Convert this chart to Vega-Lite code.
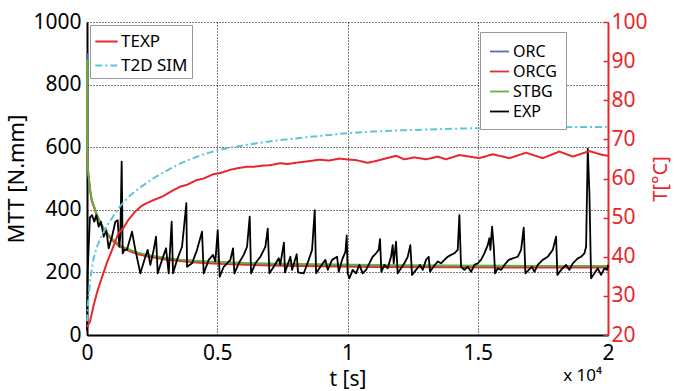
{
  "$schema": "https://vega.github.io/schema/vega-lite/v6.json",
  "width": 521,
  "height": 313,
  "autosize": {"type": "none"},
  "padding": {"left": 87, "top": 22, "right": 68, "bottom": 56},
  "background": "white",
  "config": {
    "font": "Noto Sans",
    "view": {"stroke": null},
    "axis": {"titleFontWeight": "normal", "labelFont": "Noto Sans", "titleFont": "Noto Sans"}
  },
  "title": {"text": "x 10⁴", "orient": "bottom", "anchor": "end", "frame": "group", "offset": -21, "baseline": "top", "fontSize": 17, "fontWeight": "normal", "dx": -6, "color": "black"},
  "datasets": {
    "M": [
      {"s":"ORC","t":0,"v":900},{"s":"ORC","t":5,"v":610},{"s":"ORC","t":14,"v":578},{"s":"ORC","t":51,"v":518},{"s":"ORC","t":120,"v":465},{"s":"ORC","t":180,"v":433},{"s":"ORC","t":371,"v":387},{"s":"ORC","t":550,"v":353},{"s":"ORC","t":756,"v":326},{"s":"ORC","t":1000,"v":304},{"s":"ORC","t":1280,"v":285},{"s":"ORC","t":1650,"v":271},{"s":"ORC","t":2000,"v":261},{"s":"ORC","t":2290,"v":255},{"s":"ORC","t":3000,"v":245},{"s":"ORC","t":3570,"v":240},{"s":"ORC","t":4200,"v":236},{"s":"ORC","t":4840,"v":233},{"s":"ORC","t":6130,"v":229},{"s":"ORC","t":7410,"v":226},{"s":"ORC","t":9000,"v":223},{"s":"ORC","t":11000,"v":221},{"s":"ORC","t":14000,"v":220},{"s":"ORC","t":17000,"v":219},{"s":"ORC","t":20000,"v":219},
      {"s":"ORCG","t":0,"v":860},{"s":"ORCG","t":5,"v":600},{"s":"ORCG","t":14,"v":570},{"s":"ORCG","t":51,"v":512},{"s":"ORCG","t":120,"v":460},{"s":"ORCG","t":180,"v":428},{"s":"ORCG","t":371,"v":383},{"s":"ORCG","t":550,"v":349},{"s":"ORCG","t":756,"v":322},{"s":"ORCG","t":1000,"v":300},{"s":"ORCG","t":1280,"v":281},{"s":"ORCG","t":1650,"v":267},{"s":"ORCG","t":2000,"v":257},{"s":"ORCG","t":2290,"v":251},{"s":"ORCG","t":3000,"v":241},{"s":"ORCG","t":3570,"v":236},{"s":"ORCG","t":4200,"v":231},{"s":"ORCG","t":4840,"v":228},{"s":"ORCG","t":6130,"v":224},{"s":"ORCG","t":7410,"v":221},{"s":"ORCG","t":9000,"v":219},{"s":"ORCG","t":11000,"v":217},{"s":"ORCG","t":14000,"v":216},{"s":"ORCG","t":17000,"v":215},{"s":"ORCG","t":20000,"v":215},
      {"s":"STBG","t":0,"v":880},{"s":"STBG","t":5,"v":605},{"s":"STBG","t":14,"v":575},{"s":"STBG","t":51,"v":516},{"s":"STBG","t":120,"v":464},{"s":"STBG","t":180,"v":432},{"s":"STBG","t":371,"v":387},{"s":"STBG","t":550,"v":353},{"s":"STBG","t":756,"v":327},{"s":"STBG","t":1000,"v":305},{"s":"STBG","t":1280,"v":286},{"s":"STBG","t":1650,"v":272},{"s":"STBG","t":2000,"v":262},{"s":"STBG","t":2290,"v":256},{"s":"STBG","t":3000,"v":247},{"s":"STBG","t":3570,"v":241},{"s":"STBG","t":4200,"v":237},{"s":"STBG","t":4840,"v":234},{"s":"STBG","t":6130,"v":230},{"s":"STBG","t":7410,"v":228},{"s":"STBG","t":9000,"v":226},{"s":"STBG","t":11000,"v":224},{"s":"STBG","t":14000,"v":222},{"s":"STBG","t":17000,"v":221},{"s":"STBG","t":20000,"v":221},
      {"s":"EXP","t":0,"v":15},{"s":"EXP","t":25,"v":200},{"s":"EXP","t":110,"v":375},{"s":"EXP","t":192,"v":383},{"s":"EXP","t":282,"v":362},{"s":"EXP","t":358,"v":383},{"s":"EXP","t":448,"v":346},{"s":"EXP","t":538,"v":362},{"s":"EXP","t":640,"v":314},{"s":"EXP","t":742,"v":335},{"s":"EXP","t":832,"v":277},{"s":"EXP","t":960,"v":314},{"s":"EXP","t":1088,"v":362},{"s":"EXP","t":1178,"v":367},{"s":"EXP","t":1242,"v":282},{"s":"EXP","t":1280,"v":319},{"s":"EXP","t":1331,"v":554},{"s":"EXP","t":1370,"v":261},{"s":"EXP","t":1434,"v":272},{"s":"EXP","t":1536,"v":272},{"s":"EXP","t":1728,"v":330},{"s":"EXP","t":1856,"v":272},{"s":"EXP","t":2048,"v":197},{"s":"EXP","t":2240,"v":250},{"s":"EXP","t":2330,"v":272},{"s":"EXP","t":2432,"v":224},{"s":"EXP","t":2560,"v":272},{"s":"EXP","t":2650,"v":314},{"s":"EXP","t":2714,"v":197},{"s":"EXP","t":2880,"v":240},{"s":"EXP","t":3034,"v":277},{"s":"EXP","t":3136,"v":197},{"s":"EXP","t":3250,"v":362},{"s":"EXP","t":3302,"v":197},{"s":"EXP","t":3456,"v":240},{"s":"EXP","t":3648,"v":282},{"s":"EXP","t":3814,"v":421},{"s":"EXP","t":3840,"v":218},{"s":"EXP","t":4032,"v":229},{"s":"EXP","t":4224,"v":272},{"s":"EXP","t":4416,"v":330},{"s":"EXP","t":4480,"v":197},{"s":"EXP","t":4672,"v":240},{"s":"EXP","t":4838,"v":256},{"s":"EXP","t":4928,"v":235},{"s":"EXP","t":5018,"v":335},{"s":"EXP","t":5094,"v":186},{"s":"EXP","t":5248,"v":218},{"s":"EXP","t":5376,"v":229},{"s":"EXP","t":5504,"v":240},{"s":"EXP","t":5606,"v":277},{"s":"EXP","t":5658,"v":197},{"s":"EXP","t":5824,"v":229},{"s":"EXP","t":6016,"v":256},{"s":"EXP","t":6144,"v":282},{"s":"EXP","t":6246,"v":378},{"s":"EXP","t":6298,"v":197},{"s":"EXP","t":6464,"v":229},{"s":"EXP","t":6656,"v":250},{"s":"EXP","t":6848,"v":282},{"s":"EXP","t":6938,"v":340},{"s":"EXP","t":7002,"v":197},{"s":"EXP","t":7168,"v":218},{"s":"EXP","t":7360,"v":245},{"s":"EXP","t":7420,"v":225},{"s":"EXP","t":7560,"v":295},{"s":"EXP","t":7600,"v":200},{"s":"EXP","t":7808,"v":250},{"s":"EXP","t":7872,"v":208},{"s":"EXP","t":8050,"v":258},{"s":"EXP","t":8100,"v":200},{"s":"EXP","t":8320,"v":197},{"s":"EXP","t":8512,"v":240},{"s":"EXP","t":8640,"v":272},{"s":"EXP","t":8742,"v":399},{"s":"EXP","t":8794,"v":197},{"s":"EXP","t":8960,"v":218},{"s":"EXP","t":9152,"v":240},{"s":"EXP","t":9242,"v":208},{"s":"EXP","t":9408,"v":240},{"s":"EXP","t":9600,"v":250},{"s":"EXP","t":9664,"v":202},{"s":"EXP","t":9792,"v":240},{"s":"EXP","t":9920,"v":266},{"s":"EXP","t":9970,"v":318},{"s":"EXP","t":10007,"v":197},{"s":"EXP","t":10071,"v":181},{"s":"EXP","t":10199,"v":208},{"s":"EXP","t":10327,"v":197},{"s":"EXP","t":10455,"v":224},{"s":"EXP","t":10583,"v":197},{"s":"EXP","t":10711,"v":208},{"s":"EXP","t":10839,"v":229},{"s":"EXP","t":10967,"v":250},{"s":"EXP","t":11095,"v":261},{"s":"EXP","t":11197,"v":272},{"s":"EXP","t":11249,"v":306},{"s":"EXP","t":11300,"v":202},{"s":"EXP","t":11415,"v":224},{"s":"EXP","t":11543,"v":213},{"s":"EXP","t":11671,"v":250},{"s":"EXP","t":11735,"v":287},{"s":"EXP","t":11773,"v":229},{"s":"EXP","t":11863,"v":298},{"s":"EXP","t":11927,"v":197},{"s":"EXP","t":12055,"v":213},{"s":"EXP","t":12183,"v":229},{"s":"EXP","t":12311,"v":250},{"s":"EXP","t":12413,"v":287},{"s":"EXP","t":12477,"v":192},{"s":"EXP","t":12631,"v":208},{"s":"EXP","t":12785,"v":224},{"s":"EXP","t":12887,"v":208},{"s":"EXP","t":13015,"v":240},{"s":"EXP","t":13117,"v":250},{"s":"EXP","t":13169,"v":202},{"s":"EXP","t":13297,"v":218},{"s":"EXP","t":13463,"v":235},{"s":"EXP","t":13591,"v":229},{"s":"EXP","t":13719,"v":240},{"s":"EXP","t":13847,"v":250},{"s":"EXP","t":13975,"v":256},{"s":"EXP","t":14103,"v":261},{"s":"EXP","t":14231,"v":272},{"s":"EXP","t":14295,"v":383},{"s":"EXP","t":14359,"v":218},{"s":"EXP","t":14487,"v":208},{"s":"EXP","t":14615,"v":218},{"s":"EXP","t":14743,"v":202},{"s":"EXP","t":14871,"v":224},{"s":"EXP","t":14999,"v":229},{"s":"EXP","t":15127,"v":240},{"s":"EXP","t":15255,"v":261},{"s":"EXP","t":15383,"v":287},{"s":"EXP","t":15447,"v":309},{"s":"EXP","t":15486,"v":272},{"s":"EXP","t":15550,"v":346},{"s":"EXP","t":15614,"v":282},{"s":"EXP","t":15666,"v":197},{"s":"EXP","t":15767,"v":213},{"s":"EXP","t":15895,"v":208},{"s":"EXP","t":16023,"v":224},{"s":"EXP","t":16190,"v":240},{"s":"EXP","t":16343,"v":245},{"s":"EXP","t":16535,"v":250},{"s":"EXP","t":16663,"v":272},{"s":"EXP","t":16765,"v":343},{"s":"EXP","t":16830,"v":197},{"s":"EXP","t":16957,"v":208},{"s":"EXP","t":17085,"v":218},{"s":"EXP","t":17175,"v":202},{"s":"EXP","t":17303,"v":224},{"s":"EXP","t":17495,"v":240},{"s":"EXP","t":17687,"v":250},{"s":"EXP","t":17879,"v":272},{"s":"EXP","t":18007,"v":314},{"s":"EXP","t":18058,"v":192},{"s":"EXP","t":18199,"v":208},{"s":"EXP","t":18391,"v":224},{"s":"EXP","t":18519,"v":208},{"s":"EXP","t":18647,"v":229},{"s":"EXP","t":18839,"v":245},{"s":"EXP","t":18967,"v":250},{"s":"EXP","t":19095,"v":261},{"s":"EXP","t":19159,"v":282},{"s":"EXP","t":19223,"v":595},{"s":"EXP","t":19287,"v":453},{"s":"EXP","t":19351,"v":181},{"s":"EXP","t":19479,"v":197},{"s":"EXP","t":19607,"v":213},{"s":"EXP","t":19735,"v":192},{"s":"EXP","t":19863,"v":213},{"s":"EXP","t":19966,"v":208},{"s":"EXP","t":20000,"v":224}
    ],
    "T": [
      {"s":"T2D SIM","t":0,"v":23.5},{"s":"T2D SIM","t":40,"v":28},{"s":"T2D SIM","t":128,"v":34.5},{"s":"T2D SIM","t":250,"v":39.5},{"s":"T2D SIM","t":384,"v":42.6},{"s":"T2D SIM","t":570,"v":45.5},{"s":"T2D SIM","t":768,"v":47.9},{"s":"T2D SIM","t":1000,"v":50.3},{"s":"T2D SIM","t":1280,"v":53.0},{"s":"T2D SIM","t":1600,"v":55.3},{"s":"T2D SIM","t":1920,"v":57.1},{"s":"T2D SIM","t":2250,"v":58.7},{"s":"T2D SIM","t":2560,"v":60.1},{"s":"T2D SIM","t":2900,"v":61.4},{"s":"T2D SIM","t":3200,"v":62.5},{"s":"T2D SIM","t":3570,"v":63.8},{"s":"T2D SIM","t":3840,"v":64.6},{"s":"T2D SIM","t":4200,"v":65.5},{"s":"T2D SIM","t":4480,"v":66.2},{"s":"T2D SIM","t":4850,"v":66.9},{"s":"T2D SIM","t":5200,"v":67.5},{"s":"T2D SIM","t":5600,"v":68.0},{"s":"T2D SIM","t":6131,"v":68.6},{"s":"T2D SIM","t":6700,"v":69.2},{"s":"T2D SIM","t":7410,"v":69.8},{"s":"T2D SIM","t":8500,"v":70.6},{"s":"T2D SIM","t":10000,"v":71.6},{"s":"T2D SIM","t":11000,"v":72.0},{"s":"T2D SIM","t":12000,"v":72.3},{"s":"T2D SIM","t":14000,"v":72.7},{"s":"T2D SIM","t":16000,"v":73.0},{"s":"T2D SIM","t":18000,"v":73.1},{"s":"T2D SIM","t":20000,"v":73.2},
      {"s":"TEXP","t":0,"v":22},{"s":"TEXP","t":60,"v":22.8},{"s":"TEXP","t":115,"v":23.4},{"s":"TEXP","t":242,"v":27.2},{"s":"TEXP","t":370,"v":30.5},{"s":"TEXP","t":512,"v":33.5},{"s":"TEXP","t":756,"v":38.3},{"s":"TEXP","t":1011,"v":42.6},{"s":"TEXP","t":1203,"v":46.0},{"s":"TEXP","t":1395,"v":47.3},{"s":"TEXP","t":1586,"v":49.4},{"s":"TEXP","t":1843,"v":51.5},{"s":"TEXP","t":2100,"v":53.0},{"s":"TEXP","t":2291,"v":53.7},{"s":"TEXP","t":2560,"v":54.5},{"s":"TEXP","t":2930,"v":55.5},{"s":"TEXP","t":3200,"v":56.6},{"s":"TEXP","t":3570,"v":57.9},{"s":"TEXP","t":3840,"v":58.4},{"s":"TEXP","t":4212,"v":59.6},{"s":"TEXP","t":4480,"v":60.0},{"s":"TEXP","t":4850,"v":61.1},{"s":"TEXP","t":5120,"v":61.4},{"s":"TEXP","t":5490,"v":62.2},{"s":"TEXP","t":5760,"v":62.6},{"s":"TEXP","t":6131,"v":63.0},{"s":"TEXP","t":6400,"v":63.0},{"s":"TEXP","t":6770,"v":63.3},{"s":"TEXP","t":7040,"v":63.4},{"s":"TEXP","t":7410,"v":63.9},{"s":"TEXP","t":7700,"v":63.7},{"s":"TEXP","t":8100,"v":64.1},{"s":"TEXP","t":8500,"v":64.4},{"s":"TEXP","t":8900,"v":64.8},{"s":"TEXP","t":9300,"v":64.6},{"s":"TEXP","t":9700,"v":65.1},{"s":"TEXP","t":9943,"v":64.9},{"s":"TEXP","t":10327,"v":64.7},{"s":"TEXP","t":10775,"v":64.0},{"s":"TEXP","t":11223,"v":64.7},{"s":"TEXP","t":11863,"v":65.8},{"s":"TEXP","t":12183,"v":64.9},{"s":"TEXP","t":12567,"v":65.4},{"s":"TEXP","t":13015,"v":64.9},{"s":"TEXP","t":13463,"v":65.6},{"s":"TEXP","t":13783,"v":64.9},{"s":"TEXP","t":14295,"v":66.0},{"s":"TEXP","t":15063,"v":65.2},{"s":"TEXP","t":15575,"v":66.2},{"s":"TEXP","t":16215,"v":65.2},{"s":"TEXP","t":16855,"v":66.6},{"s":"TEXP","t":17495,"v":65.2},{"s":"TEXP","t":18135,"v":66.9},{"s":"TEXP","t":18647,"v":65.6},{"s":"TEXP","t":19287,"v":67.0},{"s":"TEXP","t":19799,"v":66.0},{"s":"TEXP","t":20000,"v":65.8}
    ]
  },
  "layer": [
    {
      "data": {"name": "M"},
      "mark": {"type": "line", "strokeJoin": "round"},
      "encoding": {
        "x": {"field": "t", "type": "quantitative", "scale": {"domain": [0, 20000], "nice": false},
          "axis": {"title": "t [s]", "values": [0, 5000, 10000, 15000, 20000], "labelExpr": "datum.value / 10000", "grid": true, "gridColor": "black", "gridDash": [1, 2], "gridWidth": 1, "ticks": false, "domainColor": "black", "domainWidth": 2, "labelFontSize": 21, "labelColor": "black", "labelPadding": 7, "titleFontSize": 21, "titleColor": "black", "titlePadding": 5, "labelFlush": false}},
        "y": {"field": "v", "type": "quantitative", "scale": {"domain": [0, 1000], "nice": false},
          "axis": {"title": "MTT [N.mm]", "orient": "left", "values": [0, 200, 400, 600, 800, 1000], "format": "d", "grid": true, "gridColor": "black", "gridDash": [1, 2], "gridWidth": 1, "ticks": false, "domainColor": "black", "domainWidth": 2, "labelFontSize": 21, "labelColor": "black", "labelPadding": 6, "titleFontSize": 22, "titleColor": "black", "titlePadding": 4}},
        "color": {"field": "s", "type": "nominal", "scale": {"domain": ["ORC", "ORCG", "STBG", "EXP"], "range": ["#5b6bb5", "#e62a2e", "#63b43a", "#000000"]},
          "legend": {"title": null, "orient": "none", "legendX": 393, "legendY": 10, "symbolType": "stroke", "symbolSize": 360, "symbolStrokeWidth": 1.5, "labelFontSize": 16, "labelColor": "black", "labelOffset": 3, "rowPadding": 1, "padding": 9, "strokeColor": "#999999", "fillColor": "white"}},
        "strokeWidth": {"field": "s", "type": "nominal", "scale": {"domain": ["ORC", "ORCG", "STBG", "EXP"], "range": [1.8, 1.8, 1.8, 1.2]}, "legend": null}
      }
    },
    {
      "data": {"name": "T"},
      "mark": {"type": "line", "strokeWidth": 2, "strokeJoin": "round"},
      "encoding": {
        "x": {"field": "t", "type": "quantitative", "scale": {"domain": [0, 20000], "nice": false}},
        "y": {"field": "v", "type": "quantitative", "scale": {"domain": [20, 100], "nice": false},
          "axis": {"title": "T[°C]", "orient": "right", "titleAngle": -90, "titleBaseline": "top", "values": [20, 30, 40, 50, 60, 70, 80, 90, 100], "grid": false, "ticks": true, "tickSize": -5, "tickColor": "#e8262d", "tickWidth": 1.5, "domainColor": "#e8262d", "domainWidth": 2, "labelFontSize": 21, "labelColor": "#e8262d", "labelPadding": 8, "titleFontSize": 20, "titleColor": "#e8262d", "titlePadding": 3}},
        "color": {"field": "s", "type": "nominal", "scale": {"domain": ["TEXP", "T2D SIM"], "range": ["#e8262d", "#5ec5dc"]},
          "legend": {"title": null, "orient": "none", "legendX": 3, "legendY": 3, "symbolType": "stroke", "symbolSize": 500, "symbolStrokeWidth": 2, "labelFontSize": 17, "labelColor": "black", "labelOffset": 2, "rowPadding": 3, "padding": 4, "strokeColor": "#999999", "fillColor": "white"}},
        "strokeDash": {"field": "s", "type": "nominal", "scale": {"domain": ["TEXP", "T2D SIM"], "range": [[1, 0], [7, 3, 2, 3]]},
          "legend": {"title": null, "orient": "none", "legendX": 3, "legendY": 3, "symbolType": "stroke", "symbolSize": 500, "symbolStrokeWidth": 2, "labelFontSize": 17, "labelColor": "black", "labelOffset": 2, "rowPadding": 3, "padding": 4, "strokeColor": "#999999", "fillColor": "white"}}
      }
    }
  ],
  "resolve": {"scale": {"y": "independent", "color": "independent", "strokeDash": "independent", "strokeWidth": "independent"}}
}
